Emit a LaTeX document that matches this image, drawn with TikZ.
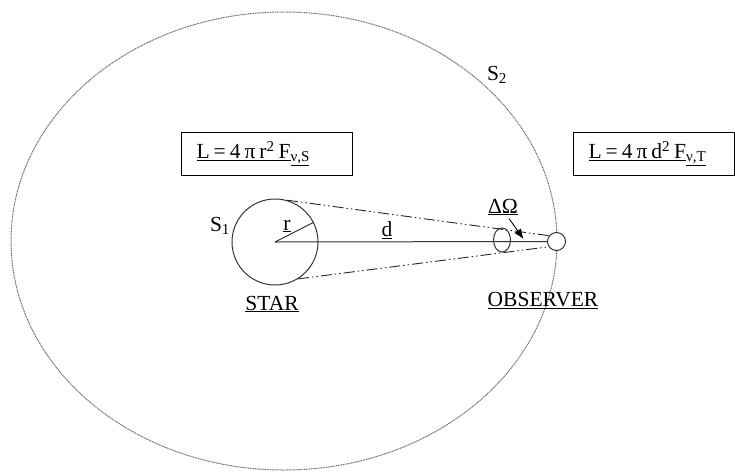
\documentclass[tikz,border=0pt]{standalone}
\usepackage{fontspec}
\setmainfont{Liberation Serif}
\usetikzlibrary{arrows.meta,positioning}

\newcommand{\gap}{\hspace{4pt}}

\begin{document}
\begin{tikzpicture}[
  x=1pt,
  y=-1pt,
  every node/.style={
    font=\fontsize{21.5}{25}\selectfont,
    text=black
  },
  eqbox/.style={
    draw=black,
    line width=1pt,
    rectangle,
    fill=white,
    align=left,
    inner xsep=15.5pt,
    inner ysep=0pt,
    minimum height=43pt
  },
  body/.style={
    draw=black!80,
    line width=1pt,
    circle,
    inner sep=0pt
  },
  sightline/.style={
    draw=black!85,
    line width=0.9pt,
    dash pattern=on 11pt off 3pt on 1.5pt off 3pt on 1.5pt off 3pt
  },
  arrow/.style={
    -{Latex[length=10pt,width=8pt]},
    draw=black,
    line width=0.9pt
  }
]
  \useasboundingbox (0,0) rectangle (735,471);
  \draw[black!60, line width=1pt, dash pattern=on 1pt off 0.7pt] (284,241)
    ellipse [x radius=273, y radius=229];

  \node[body, minimum size=86pt] (star) at (275,242) {};
  \node[body, minimum size=18pt, fill=white] (observer) at (556.5,241.5) {};
  \draw[draw=black!80, line width=1pt] (502,240)
    ellipse [x radius=8.5, y radius=12];

  \draw[black!80, line width=1pt] (star.center) -- (observer.west);
  \draw[black!85, line width=0.9pt] (star.center) -- (star.27);
  \draw[sightline] (star.74) -- (observer.142);
  \draw[sightline] (star.-58) -- (observer.214);

  \node[eqbox, text width=140pt] (lumstar) at (266.5,153.5)
    {\underline{L\gap=\gap4\gap π\gap r\textsuperscript{2}\gap F}\textsubscript{\underline{ν,S}}};
  \node[eqbox, text width=130pt] (lumobs) at (653.5,153.5)
    {\underline{L\gap=\gap4\gap π\gap d\textsuperscript{2}\gap F}\textsubscript{\underline{ν,T}}};

  \node[anchor=base] (sone) at (220,231.5) {S\textsubscript{1}};
  \node[anchor=base] (stwo) at (497,80) {S\textsubscript{2}};
  \node[anchor=base] (rlabel) at (287,230) {\underline{r}};
  \node[anchor=base] (dlabel) at (387,236.5) {\underline{d}};
  \node[anchor=base] (solidangle) at (503,213) {\underline{ΔΩ}};
  \node[anchor=base] (starlabel) at (272,310) {\underline{STAR}};
  \node[anchor=base] (observerlabel) at (543,306) {\underline{OBSERVER}};

  \coordinate (aperture) at (523.5,239);
  \draw[arrow] (solidangle.south) ++(6,0) -- (aperture);
\end{tikzpicture}
\end{document}
